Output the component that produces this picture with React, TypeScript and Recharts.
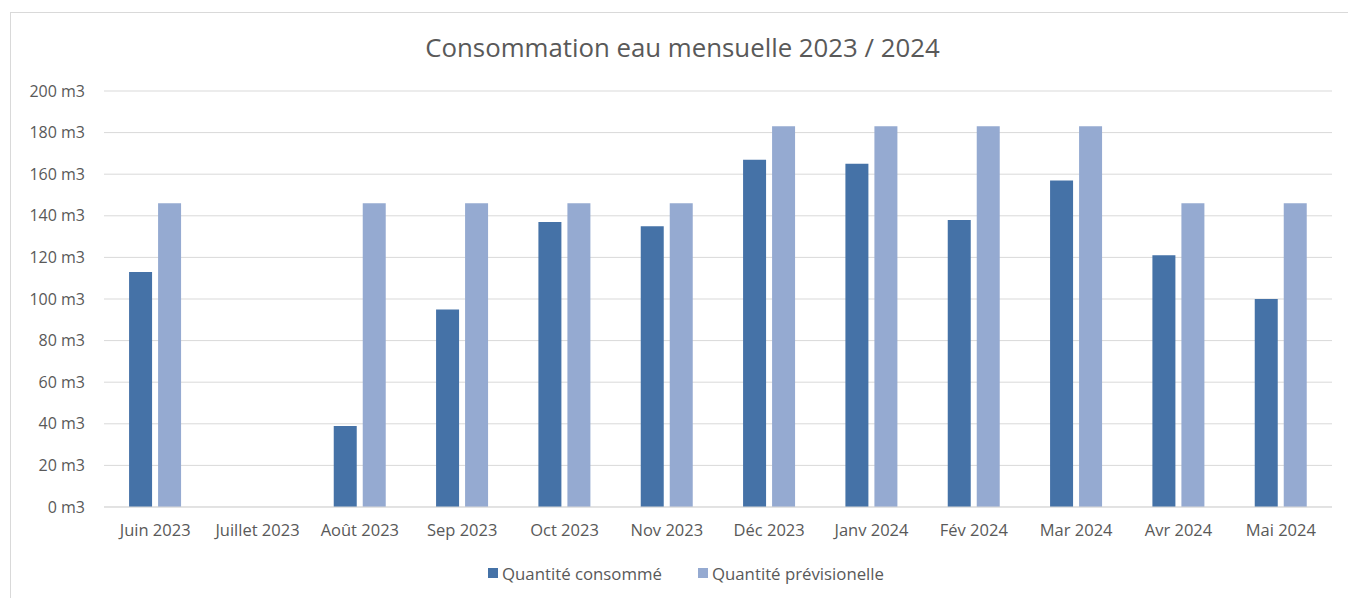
import React from "react";
import { BarChart, Bar, XAxis, YAxis, CartesianGrid, Legend } from "recharts";

const months = [
  "Juin 2023", "Juillet 2023", "Août 2023", "Sep 2023", "Oct 2023", "Nov 2023",
  "Déc 2023", "Janv 2024", "Fév 2024", "Mar 2024", "Avr 2024", "Mai 2024",
];
const consomme: (number | null)[] = [113, null, 39, 95, 137, 135, 167, 165, 138, 157, 121, 100];
const previsionnelle: (number | null)[] = [146, null, 146, 146, 146, 146, 183, 183, 183, 183, 146, 146];
const yTicks = [0, 20, 40, 60, 80, 100, 120, 140, 160, 180, 200];

const SERIES_NAMES = ["Quantité consommé", "Quantité prévisionelle"];
const COLORS = ["#4572A7", "#95AAD1"];
const TEXT = "#595959";
const FONT = "'Open Sans', sans-serif";

const data = months.map((m, i) => ({
  month: m,
  consomme: consomme[i],
  previsionnelle: previsionnelle[i],
}));

const LegendContent = () => (
  <div
    style={{
      display: "flex",
      justifyContent: "center",
      alignItems: "center",
      gap: 36,
      fontFamily: FONT,
      fontSize: 16.8,
      color: TEXT,
      height: 30,
      paddingLeft: 40,
    }}
  >
    {SERIES_NAMES.map((n, i) => (
      <div key={n} style={{ display: "flex", alignItems: "center" }}>
        <span style={{ width: 10, height: 10, background: COLORS[i], display: "inline-block", marginRight: 4 }} />
        <span>{n}</span>
      </div>
    ))}
  </div>
);

export default function App() {
  return (
    <div style={{ position: "absolute", left: 0, top: 0, width: 1348, height: 598, background: "#fff", overflow: "hidden" }}>
      <div
        style={{
          position: "absolute",
          left: 10,
          top: 12,
          width: 1360,
          height: 620,
          border: "1px solid #d9d9d9",
          boxSizing: "border-box",
        }}
      />
      <div
        style={{
          position: "absolute",
          left: 0,
          top: 29,
          width: 1365,
          textAlign: "center",
          fontFamily: FONT,
          fontSize: 25.8,
          color: TEXT,
          lineHeight: "36px",
        }}
      >
        Consommation eau mensuelle 2023 / 2024
      </div>
      <div style={{ position: "absolute", left: 0, top: 0 }}>
        <BarChart
          width={1348}
          height={598}
          data={data}
          margin={{ top: 91, right: 16, bottom: 10, left: 0 }}
          barGap={6}
          barCategoryGap="24.5%"
        >
          <CartesianGrid vertical={false} stroke="#d9d9d9" strokeWidth={1} />
          <XAxis
            dataKey="month"
            height={51}
            tickLine={false}
            axisLine={{ stroke: "#d9d9d9" }}
            tick={{ fill: TEXT, fontSize: 16.5, fontFamily: FONT }}
            tickMargin={11}
            interval={0}
          />
          <YAxis
            width={104}
            domain={[0, 200]}
            ticks={yTicks}
            tickLine={false}
            axisLine={false}
            tick={{ fill: TEXT, fontSize: 16, fontFamily: FONT }}
            tickMargin={13}
            tickFormatter={(v: number) => `${v} m3`}
          />
          <Legend verticalAlign="bottom" height={30} content={<LegendContent />} />
          <Bar dataKey="consomme" name={SERIES_NAMES[0]} fill={COLORS[0]} isAnimationActive={false} />
          <Bar dataKey="previsionnelle" name={SERIES_NAMES[1]} fill={COLORS[1]} isAnimationActive={false} />
        </BarChart>
      </div>
    </div>
  );
}
